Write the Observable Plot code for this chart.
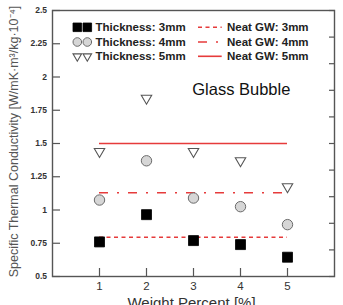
<!DOCTYPE html>
<html>
<head>
<meta charset="utf-8">
<script src="https://cdn.jsdelivr.net/npm/d3@7"></script>
<script src="https://cdn.jsdelivr.net/npm/@observablehq/plot@0.6"></script>
<style>
  html, body { margin: 0; padding: 0; background: #fff; overflow: hidden; }
</style>
</head>
<body>
<div id="chart"></div>
<script>
// Specific thermal conductivity of glass-bubble composites vs. weight percent
const weightPercent = [1, 2, 3, 4, 5];
const thickness3mm = [0.76, 0.965, 0.77, 0.74, 0.645];
const thickness4mm = [1.075, 1.37, 1.09, 1.025, 0.89];
const thickness5mm = [1.44, 1.84, 1.44, 1.37, 1.175];
// Neat glass-wool references for 3, 4 and 5 mm
const neatGW = [0.795, 1.13, 1.5];

const thicknessLabels = ["Thickness: 3mm", "Thickness: 4mm", "Thickness: 5mm"];
const neatLabels = ["Neat GW: 3mm", "Neat GW: 4mm", "Neat GW: 5mm"];

const xTicks = [1, 2, 3, 4, 5];
const xTickLabels = ["1", "2", "3", "4", "5"];
const yTicks = [0.5, 0.75, 1, 1.25, 1.5, 1.75, 2, 2.25, 2.5];
const yTickLabels = ["0.5", "0.75", "1", "1.25", "1.5", "1.75", "2", "2.25", "2.5"];
const rightTicks = [0.5, 0.7, 0.9, 1.1, 1.3, 1.5, 1.7, 1.9, 2.1, 2.3, 2.5];

const yLabel = "Specific Thermal Conductivity [W/mK·m³/kg·10⁻⁴]";
const xLabel = "Weight Percent [%]";
const annotation = "Glass Bubble";

// custom marker shapes (size = π r²)
const radius = size => Math.sqrt(size / Math.PI);
const squareSym = { draw(ctx, size) { const r = radius(size); ctx.rect(-r, -r, 2 * r, 2 * r); } };
const circleSym = { draw(ctx, size) { const r = radius(size); ctx.moveTo(r, 0); ctx.arc(0, 0, r, 0, 2 * Math.PI); } };
const triDownSym = { draw(ctx, size) {
  const r = radius(size), h = r * 1.72;
  ctx.moveTo(-r, -h / 3); ctx.lineTo(r, -h / 3); ctx.lineTo(0, 2 * h / 3); ctx.closePath();
} };

const red = "#e63b3b";
const dashes = ["4,3.5", "9,9,2,9", null];
const markerStyles = [
  { symbol: squareSym, fill: "#000", stroke: "#000", strokeWidth: 0.8 },
  { symbol: circleSym, fill: "#d6d6d6", stroke: "#6b6b6b", strokeWidth: 1 },
  { symbol: triDownSym, fill: "#fff", stroke: "#555", strokeWidth: 1.1 }
];
const markerR = [5, 5.2, 5.2];

const series = [thickness3mm, thickness4mm, thickness5mm].map(vals =>
  weightPercent.map((w, i) => ({ w, v: vals[i] }))
);
const xMin = d3.min(weightPercent), xMax = d3.max(weightPercent);
const yTickText = new Map(yTicks.map((v, i) => [v, yTickLabels[i]]));
const xTickText = new Map(xTicks.map((v, i) => [v, xTickLabels[i]]));

const axisColor = "#555";
const fontFamily = "'Liberation Sans', Arial, sans-serif";

const chart = Plot.plot({
  width: 343,
  height: 305,
  marginLeft: 52,
  marginRight: 9,
  marginTop: 10,
  marginBottom: 29,
  style: { fontFamily, background: "#fff" },
  x: { domain: [0, 6], label: null },
  y: { domain: [0.5, 2.5], label: null },
  marks: [
    // neat glass-wool reference lines
    ...neatGW.map((v, i) => Plot.ruleY([v], {
      x1: xMin, x2: xMax, stroke: red, strokeWidth: 1.6,
      strokeDasharray: dashes[i] ?? undefined
    })),
    // measured points
    ...series.map((data, i) => Plot.dot(data, {
      x: "w", y: "v", r: markerR[i], ...markerStyles[i]
    })),
    // inward ticks
    Plot.axisY(yTicks, { anchor: "left", tickSize: 8, dx: 8, fill: "none", stroke: axisColor, strokeWidth: 1.2 }),
    Plot.axisY(rightTicks, { anchor: "right", tickSize: 6, dx: -6, fill: "none", stroke: axisColor, strokeWidth: 1.2 }),
    Plot.axisX(xTicks, { anchor: "bottom", tickSize: 8, dy: -8, fill: "none", stroke: axisColor, strokeWidth: 1.2 }),
    // tick labels
    Plot.axisY(yTicks, {
      anchor: "left", tickSize: 0, tickPadding: 5.5, tickFormat: d => yTickText.get(d),
      fontSize: 8.5, fontWeight: "bold", fill: "#333"
    }),
    Plot.axisX(xTicks, {
      anchor: "bottom", tickSize: 0, tickPadding: 5.5, tickFormat: d => xTickText.get(d),
      fontSize: 11.5, fill: "#333"
    }),
    Plot.frame({ stroke: axisColor, strokeWidth: 1.4 }),
    // axis titles and annotation
    Plot.text([yLabel], {
      frameAnchor: "left", textAnchor: "middle", lineAnchor: "middle",
      dx: -39, dy: -2, rotate: -90, fontSize: 12.5, fill: "#555"
    }),
    Plot.text([xLabel], {
      frameAnchor: "bottom", textAnchor: "middle", lineAnchor: "middle",
      dx: -2, dy: 27, fontSize: 15, fill: "#333"
    }),
    Plot.text([annotation], {
      frameAnchor: "top-left", textAnchor: "start", lineAnchor: "middle",
      dx: 139.7, dy: 79.3, fontSize: 16.5, fill: "#111", letterSpacing: "-0.3px"
    })
  ]
});

// legend drawn inside the plot area
const svg = d3.select(chart);
const legend = svg.append("g")
  .attr("font-family", fontFamily)
  .attr("font-size", 11.5)
  .attr("font-weight", "bold")
  .attr("text-anchor", "start")
  .attr("fill", "#222");
const rowY = [27.3, 42, 56.3];
thicknessLabels.forEach((label, i) => {
  const st = markerStyles[i];
  const path = d3.symbol(st.symbol, Math.PI * 4.3 * 4.3)();
  [77.3, 87.3].forEach(cx => {
    legend.append("path")
      .attr("d", path)
      .attr("transform", `translate(${cx},${rowY[i]})`)
      .attr("fill", st.fill).attr("stroke", st.stroke).attr("stroke-width", st.strokeWidth);
  });
  legend.append("text").attr("x", 95.5).attr("y", rowY[i]).attr("dy", "0.35em").text(label);
});
neatLabels.forEach((label, i) => {
  legend.append("line")
    .attr("x1", 198).attr("x2", 221.7).attr("y1", rowY[i]).attr("y2", rowY[i])
    .attr("stroke", red).attr("stroke-width", 1.6)
    .attr("stroke-dasharray", dashes[i]);
  legend.append("text").attr("x", 227).attr("y", rowY[i]).attr("dy", "0.35em").text(label);
});

document.getElementById("chart").appendChild(chart);
</script>
</body>
</html>
